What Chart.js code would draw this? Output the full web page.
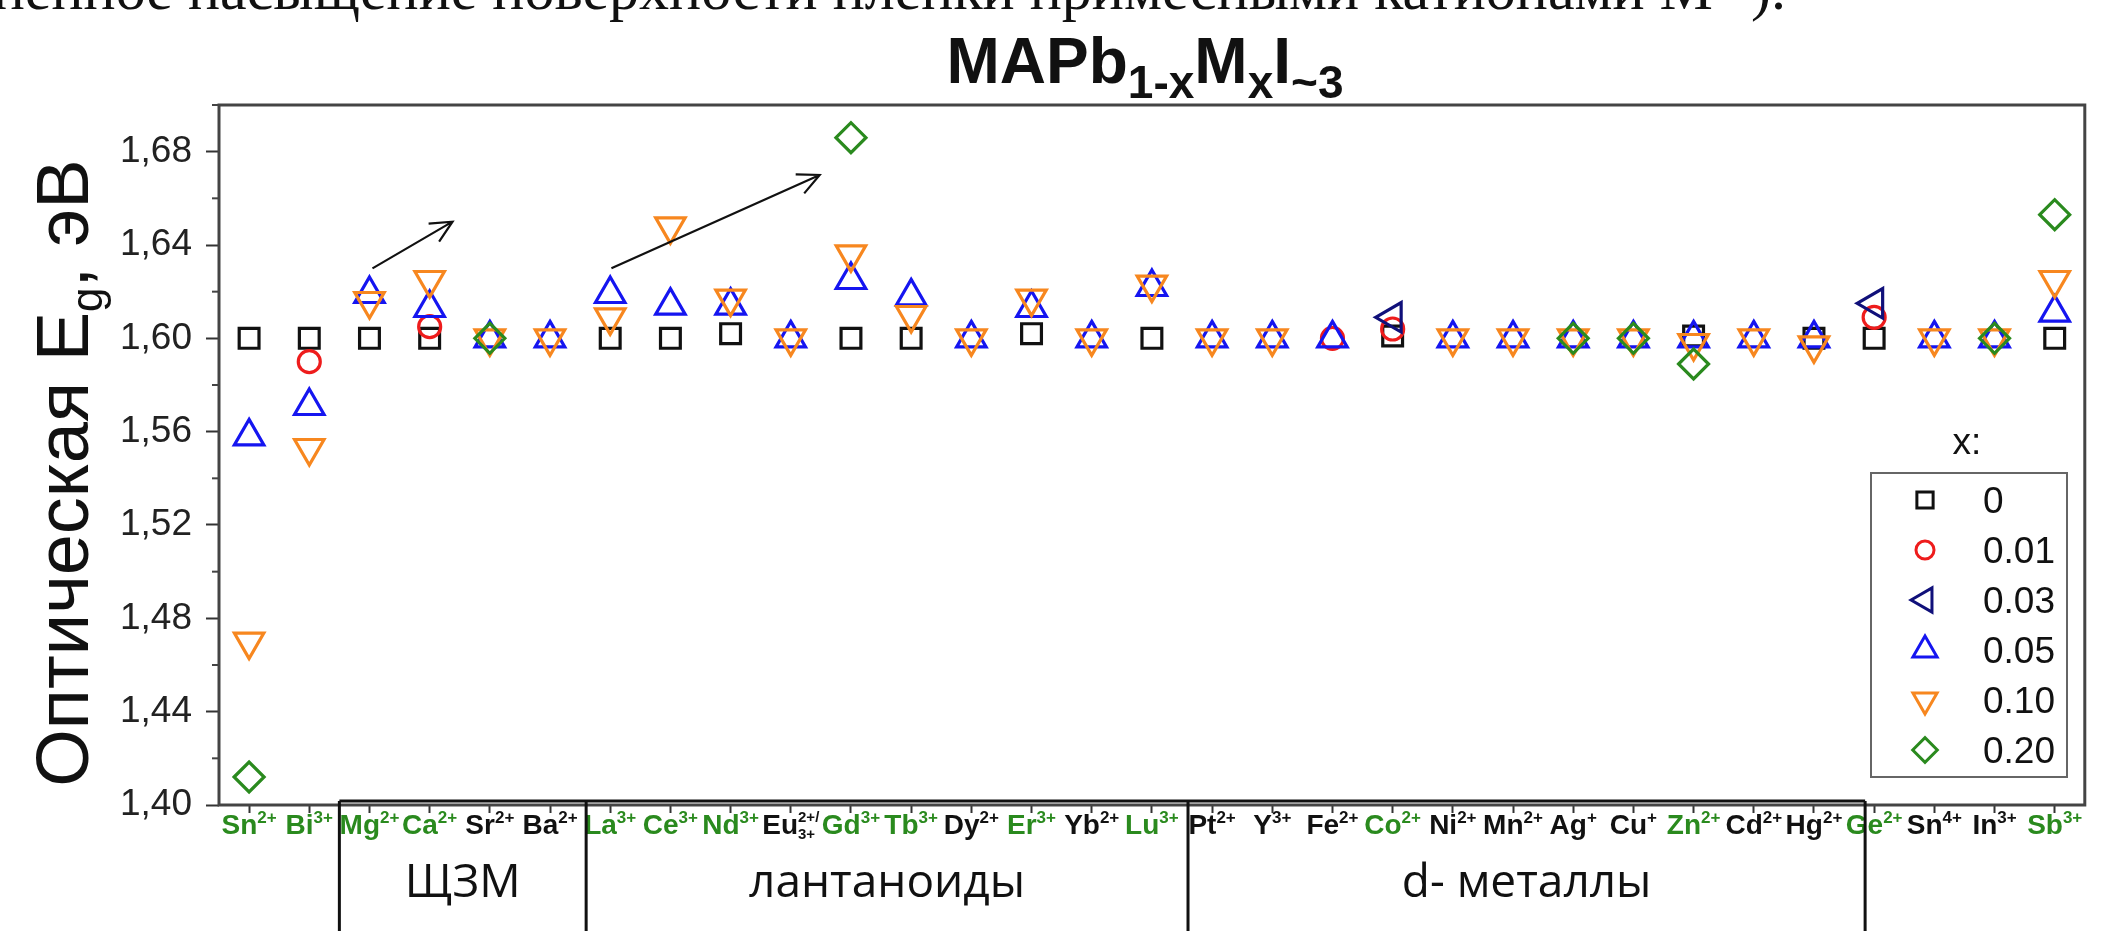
<!DOCTYPE html>
<html>
<head>
<meta charset="utf-8">
<script src="https://cdn.jsdelivr.net/npm/chart.js@4.4.1/dist/chart.umd.min.js"></script>
<style>
  html, body { margin: 0; padding: 0; background: #fff; }
  #wrap { width: 2105px; height: 931px; position: relative; }
</style>
</head>
<body>
<div id="wrap"><canvas id="egChart"></canvas></div>
<script>
// --- data ---
const ions    = ['Sn','Bi','Mg','Ca','Sr','Ba','La','Ce','Nd','Eu','Gd','Tb','Dy','Er','Yb','Lu','Pt','Y','Fe','Co','Ni','Mn','Ag','Cu','Zn','Cd','Hg','Ge','Sn','In','Sb'];
const charges = ['2+','3+','2+','2+','2+','2+','3+','3+','3+','2+/','3+','3+','2+','3+','2+','3+','2+','3+','2+','2+','2+','2+','+','+','2+','2+','2+','2+','4+','3+','3+'];
const greenIons = [0,1,2,3,6,7,8,10,11,13,15,19,24,27,30];

const x000 = [1.600,1.600,1.600,1.600,null,null,1.600,1.600,1.602,null,1.600,1.600,null,1.602,null,1.600,null,null,null,1.601,null,null,null,null,1.601,null,1.600,1.600,null,null,1.600];
const x001 = [null,1.590,null,1.605,null,null,null,null,null,null,null,null,null,null,null,null,null,null,1.600,1.604,null,null,null,null,null,null,null,1.609,null,null,null];
const x003 = [null,null,null,null,null,null,null,null,null,null,null,null,null,null,null,null,null,null,null,1.609,null,null,null,null,null,null,null,1.615,null,null,null];
const x005 = [1.558,1.571,1.619,1.613,1.600,1.600,1.619,1.614,1.614,1.600,1.625,1.618,1.600,1.613,1.600,1.622,1.600,1.600,1.600,null,1.600,1.600,1.600,1.600,1.600,1.600,1.600,null,1.600,1.600,1.611];
const x010 = [1.470,1.553,1.616,1.625,1.600,1.600,1.609,1.648,1.617,1.600,1.636,1.610,1.600,1.617,1.600,1.623,1.600,1.600,null,null,1.600,1.600,1.600,1.600,1.598,1.600,1.597,null,1.600,1.600,1.625];
const x020 = [1.412,null,null,null,1.600,null,null,null,null,null,1.686,null,null,null,null,null,null,null,null,null,null,null,1.600,1.600,1.589,null,null,null,null,1.600,1.653];

const seriesNames = ['0','0.01','0.03','0.05','0.10','0.20'];
const yTicks = [1.40,1.44,1.48,1.52,1.56,1.60,1.64,1.68];

// group boxes under the axis: [from, to, label] in category units
const groups = [[1.5, 5.6, 'ЩЗМ'], [5.6, 15.6, 'лантаноиды'], [15.6, 26.85, 'd- металлы']];
// arrows: [x0, y0, x1, y1] in category / eV units
const arrows = [[2.05, 1.630, 3.38, 1.650], [6.02, 1.630, 9.48, 1.670]];

const GREEN = '#2a8a1e';
const styles = [
  { color: '#111111', pointStyle: 'rect',     rotation: 0,   radius: 14 },
  { color: '#ee1c1c', pointStyle: 'circle',   rotation: 0,   radius: 11 },
  { color: '#10107a', pointStyle: 'triangle', rotation: -90, radius: 17 },
  { color: '#1515f0', pointStyle: 'triangle', rotation: 0,   radius: 17 },
  { color: '#f7871f', pointStyle: 'triangle', rotation: 180, radius: 17 },
  { color: '#2a8a1e', pointStyle: 'rectRot',  rotation: 0,   radius: 15 }
];
const allSeries = [x000, x001, x003, x005, x010, x020];

const datasets = allSeries.map((vals, i) => ({
  label: seriesNames[i],
  data: vals,
  showLine: false,
  pointStyle: styles[i].pointStyle,
  rotation: styles[i].rotation,
  pointRadius: styles[i].radius,
  pointHoverRadius: styles[i].radius,
  pointBorderWidth: 3.2,
  borderColor: styles[i].color,
  pointBorderColor: styles[i].color,
  pointBackgroundColor: 'rgba(0,0,0,0)',
  order: 5 - i,
  clip: false
}));

function drawRich(ctx, parts, x, y, align) {
  let w = 0;
  parts.forEach(p => {
    ctx.font = p.font;
    p.w = ctx.measureText(p.t).width;
    if (!p.stack) w += p.w;
  });
  let cx = align === 'center' ? x - w / 2 : x;
  let last = 0;
  parts.forEach(p => {
    ctx.font = p.font;
    if (p.stack) {
      ctx.fillText(p.t, cx - last, y + p.dy);
    } else {
      ctx.fillText(p.t, cx, y + p.dy);
      cx += p.w;
      last = p.w;
    }
  });
}

const overlay = {
  id: 'overlay',
  afterDraw(chart) {
    const { ctx, chartArea: a, scales: { x, y } } = chart;
    ctx.save();

    // frame
    ctx.strokeStyle = '#444';
    ctx.lineWidth = 3;
    ctx.strokeRect(a.left, a.top, a.right - a.left, a.bottom - a.top);

    // minor y ticks
    ctx.lineWidth = 2;
    for (let v = 1.42; v < 1.705; v += 0.04) {
      const py = y.getPixelForValue(v);
      ctx.beginPath(); ctx.moveTo(a.left - 7, py); ctx.lineTo(a.left, py); ctx.stroke();
    }

    // category labels with superscripts
    ctx.textBaseline = 'alphabetic';
    const base = 'bold 28px "Liberation Sans", Arial';
    const sup = 'bold 17px "Liberation Sans", Arial';
    ions.forEach((ion, i) => {
      const px = x.getPixelForValue(i);
      ctx.fillStyle = greenIons.includes(i) ? GREEN : '#111';
      const parts = [{ t: ion, font: base, dy: 0 }];
      if (charges[i] === '2+/') {
        parts.push({ t: '2+/', font: 'bold 15px "Liberation Sans", Arial', dy: -12 });
        parts.push({ t: '3+', font: 'bold 15px "Liberation Sans", Arial', dy: 5, stack: true });
      } else {
        parts.push({ t: charges[i], font: sup, dy: -11 });
      }
      drawRich(ctx, parts, px, 834, 'center');
    });

    // group boxes
    ctx.strokeStyle = '#111';
    ctx.lineWidth = 3;
    const boxTop = a.bottom - 4;
    ctx.beginPath();
    ctx.moveTo(x.getPixelForValue(groups[0][0]), boxTop);
    ctx.lineTo(x.getPixelForValue(groups[groups.length - 1][1]), boxTop);
    const edges = [groups[0][0]].concat(groups.map(g => g[1]));
    edges.forEach(e => {
      const px = x.getPixelForValue(e);
      ctx.moveTo(px, boxTop); ctx.lineTo(px, 940);
    });
    ctx.stroke();
    ctx.fillStyle = '#111';
    ctx.textAlign = 'center';
    ctx.font = '46px "Open Sans", "Noto Sans", sans-serif';
    groups.forEach(g => {
      const px = (x.getPixelForValue(g[0]) + x.getPixelForValue(g[1])) / 2;
      ctx.fillText(g[2], px, 897);
    });
    ctx.textAlign = 'left';

    // arrows
    ctx.strokeStyle = '#111';
    ctx.lineWidth = 2.2;
    arrows.forEach(([ax0, ay0, ax1, ay1]) => {
      const x0 = x.getPixelForValue(ax0), y0 = y.getPixelForValue(ay0);
      const x1 = x.getPixelForValue(ax1), y1 = y.getPixelForValue(ay1);
      const ang = Math.atan2(y1 - y0, x1 - x0);
      ctx.beginPath();
      ctx.moveTo(x0, y0); ctx.lineTo(x1, y1);
      ctx.moveTo(x1 - 24 * Math.cos(ang - 0.45), y1 - 24 * Math.sin(ang - 0.45));
      ctx.lineTo(x1, y1);
      ctx.lineTo(x1 - 24 * Math.cos(ang + 0.45), y1 - 24 * Math.sin(ang + 0.45));
      ctx.stroke();
    });

    // legend
    ctx.fillStyle = '#111';
    ctx.font = '37px "Liberation Sans", Arial';
    ctx.textAlign = 'center';
    ctx.fillText('x:', 1967, 454);
    ctx.textAlign = 'left';
    ctx.strokeStyle = '#666';
    ctx.lineWidth = 2;
    ctx.strokeRect(1871, 473, 196, 304);
    seriesNames.forEach((name, i) => {
      const ry = 500 + i * 50;
      ctx.strokeStyle = styles[i].color;
      ctx.fillStyle = 'rgba(0,0,0,0)';
      ctx.lineWidth = 3;
      Chart.helpers.drawPoint(ctx, {
        pointStyle: styles[i].pointStyle, rotation: styles[i].rotation,
        radius: styles[i].radius * 0.82, borderWidth: 3
      }, 1925, ry);
      ctx.fillStyle = '#111';
      ctx.fillText(name, 1983, ry + 13);
    });

    // y axis title with subscript
    ctx.save();
    ctx.translate(62, 473);
    ctx.rotate(-Math.PI / 2);
    ctx.fillStyle = '#111';
    drawRich(ctx, [
      { t: 'Оптическая E', font: '74px "Liberation Sans", Arial', dy: 0 },
      { t: 'g', font: '44px "Liberation Sans", Arial', dy: 14 },
      { t: ', эВ', font: '74px "Liberation Sans", Arial', dy: 0 }
    ], 0, 26, 'center');
    ctx.restore();

    // chart title
    ctx.fillStyle = '#111';
    drawRich(ctx, [
      { t: 'MAPb', font: 'bold 64px "Liberation Sans", Arial', dy: 0 },
      { t: '1-x', font: 'bold 46px "Liberation Sans", Arial', dy: 15 },
      { t: 'M', font: 'bold 64px "Liberation Sans", Arial', dy: 0 },
      { t: 'x', font: 'bold 46px "Liberation Sans", Arial', dy: 15 },
      { t: 'I', font: 'bold 64px "Liberation Sans", Arial', dy: 0 },
      { t: '~3', font: 'bold 46px "Liberation Sans", Arial', dy: 15 }
    ], 1145, 83, 'center');

    // clipped line of slide text at the very top, fitted to its span
    const lead = 'постепенное ';
    const rest = 'насыщение поверхности пленки примесными катионами M²⁺).';
    ctx.font = '48px "Liberation Serif", "Times New Roman", serif';
    const size = 48 * (1785 - 188) / ctx.measureText(rest).width;
    ctx.font = size.toFixed(1) + 'px "Liberation Serif", "Times New Roman", serif';
    ctx.fillText(rest, 188, 9);
    ctx.textAlign = 'right';
    ctx.fillText(lead, 188, 9);

    ctx.restore();
  }
};

new Chart(document.getElementById('egChart'), {
  type: 'line',
  data: { labels: ions.map((s, i) => s + charges[i]), datasets },
  options: {
    responsive: true,
    maintainAspectRatio: false,
    animation: false,
    layout: { padding: { top: 105, right: 20, left: 0, bottom: 0 } },
    plugins: { legend: { display: false }, tooltip: { enabled: false }, title: { display: false } },
    scales: {
      x: {
        type: 'category',
        offset: true,
        border: { display: false },
        grid: { drawOnChartArea: false, drawTicks: true, tickLength: 8, tickWidth: 2, tickColor: '#333' },
        ticks: { display: false },
        afterFit(s) { s.height = 126; }
      },
      y: {
        min: 1.40,
        max: 1.70,
        border: { display: false },
        grid: {
          drawOnChartArea: false, drawTicks: true, tickLength: 13, tickWidth: 2,
          tickColor: c => yTicks.some(t => Math.abs(t - c.tick.value) < 1e-6) ? '#333' : 'rgba(0,0,0,0)'
        },
        ticks: {
          stepSize: 0.02,
          padding: 14,
          color: '#222',
          font: { size: 37, family: '"Liberation Sans", Arial' },
          callback: v => yTicks.some(t => Math.abs(t - v) < 1e-6) ? v.toFixed(2).replace('.', ',') : ''
        },
        afterFit(s) { s.width = 219; }
      }
    }
  },
  plugins: [overlay]
});
</script>
</body>
</html>
